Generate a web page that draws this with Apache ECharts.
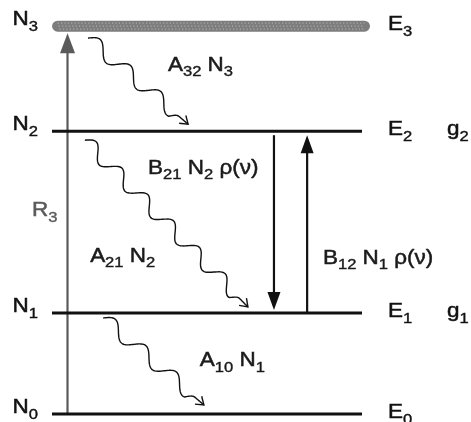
<!DOCTYPE html>
<html><head><meta charset="utf-8">
<script src="https://cdn.jsdelivr.net/npm/echarts@6/dist/echarts.min.js"></script>
<style>html,body{margin:0;padding:0;background:#fff}#main{width:471px;height:422px}</style>
</head><body><div id="main"></div>
<script>
// ---- data ----
const levelIndex = [0, 1, 2, 3];
const levelEnergy = [0, 1.0, 2.80, 3.84];          // arbitrary units
const populationLabels = ['N_0', 'N_1', 'N_2', 'N_3'];
const energyLabels = ['E_0', 'E_1', 'E_2', 'E_3'];
const degeneracyLabels = ['', 'g_1', 'g_2', ''];

const transitionNames = ['R3', 'A32', 'A21', 'A10', 'B21', 'B12'];
const transitionFrom = [0, 3, 2, 1, 2, 1];
const transitionTo = [3, 2, 1, 0, 1, 2];
const transitionKind = ['pump', 'spontaneous', 'spontaneous', 'spontaneous', 'stimulated', 'stimulated'];
const transitionLabels = ['R_3', 'A_32 N_3', 'A_21 N_2', 'A_10 N_1', 'B_21 N_2 ρ(ν)', 'B_12 N_1 ρ(ν)'];

// ---- layout (positions in axis units, offsets in px) ----
const X_MIN = 0, X_MAX = 10;
const transitionLayout = [
  {x0: 0.50, x1: 0.50, dy0: 0,  dy1: 7,  lx: -0.645, ly: 1.98},
  {x0: 1.16, x1: 4.39, dy0: 12, dy1: -7, lx: 3.74,   ly: 3.42},
  {x0: 1.06, x1: 6.32, dy0: 9,  dy1: -6, lx: 1.23,   ly: 1.53},
  {x0: 1.65, x1: 4.90, dy0: 5,  dy1: -9, lx: 4.77,   ly: 0.495},
  {x0: 7.16, x1: 7.16, dy0: 4,  dy1: -3, lx: 3.10,   ly: 2.40},
  {x0: 8.23, x1: 8.23, dy0: -1, dy1: 4,  lx: 8.74,   ly: 1.51}
];
const FONT = '"Liberation Sans", Arial, Helvetica, sans-serif';
const INK = '#111';
const GREY = '#5a5a5a';

function richText(str) {
  return str.split(/(_\d+)/).filter(Boolean)
    .map(t => t[0] === '_' ? '{s|' + t.slice(1) + '}' : '{m|' + t + '}').join('');
}
function textEl(x, capY, str, align, color) {
  return {
    type: 'text', x: x, y: capY - 12, scaleX: 1.07,
    style: {
      text: richText(str), align: align, verticalAlign: 'top', fill: color,
      fontSize: 21, fontFamily: FONT,
      rich: {
        m: {fontSize: 21, fontFamily: FONT, lineHeight: 24, padding: [0, 0, 7, 0], fill: color,
            stroke: color, lineWidth: 0.5},
        s: {fontSize: 15.5, fontFamily: FONT, lineHeight: 24, padding: [7, 0, 0, 0], fill: color,
            stroke: color, lineWidth: 0.4}
      }
    }
  };
}

function renderLevel(params, api) {
  const i = api.value(0), e = api.value(1);
  const children = [];
  const top = i === levelIndex.length - 1;
  if (top) {
    const a = api.coord([0.18, e]), b = api.coord([10.08, e]);
    children.push({type: 'line', shape: {x1: a[0], y1: a[1], x2: b[0], y2: b[1]},
      style: {stroke: '#7d7d7d', lineWidth: 11, lineCap: 'round'}});
    [-3, 0, 3].forEach((o, j) => {
      children.push({type: 'line', shape: {x1: a[0] + j, y1: a[1] + o, x2: b[0], y2: b[1] + o},
        style: {stroke: '#ababab', lineWidth: 1.2, lineDash: [1.2, 2.2]}});
    });
  } else {
    const a = api.coord([X_MIN, e]), b = api.coord([X_MAX, e]);
    children.push({type: 'line', shape: {x1: a[0], y1: a[1], x2: b[0], y2: b[1]},
      style: {stroke: INK, lineWidth: 3}});
  }
  const pN = api.coord([-0.45, e]);
  children.push(textEl(pN[0], pN[1] - 3, populationLabels[i], 'right', INK));
  const pE = api.coord([10.84, e]);
  children.push(textEl(pE[0], pE[1] + 2, energyLabels[i], 'left', INK));
  if (degeneracyLabels[i]) {
    const pg = api.coord([12.74, e]);
    children.push(textEl(pg[0], pg[1] + 2, degeneracyLabels[i], 'left', INK));
  }
  return {type: 'group', children};
}

function arrowHead(t, dir, len, w, color) {
  const px = -dir[1], py = dir[0];
  return {type: 'polygon', shape: {points: [
    [t[0], t[1]],
    [t[0] - dir[0] * len + px * w / 2, t[1] - dir[1] * len + py * w / 2],
    [t[0] - dir[0] * len - px * w / 2, t[1] - dir[1] * len - py * w / 2]
  ]}, style: {fill: color}};
}

function renderTransition(params, api) {
  const k = params.dataIndex;
  const L = transitionLayout[k];
  const s = api.coord([L.x0, levelEnergy[transitionFrom[k]]]); s[1] += L.dy0;
  const t = api.coord([L.x1, levelEnergy[transitionTo[k]]]); t[1] += L.dy1;
  const dx = t[0] - s[0], dy = t[1] - s[1];
  const len = Math.hypot(dx, dy);
  const dir = [dx / len, dy / len];
  const kind = transitionKind[k];
  const children = [];
  if (kind === 'pump' || kind === 'stimulated') {
    const color = kind === 'pump' ? GREY : INK;
    const hl = kind === 'pump' ? 20 : 18, hw = kind === 'pump' ? 15 : 13;
    children.push({type: 'line', shape: {x1: s[0], y1: s[1], x2: t[0] - dir[0] * (hl - 3), y2: t[1] - dir[1] * (hl - 3)},
      style: {stroke: color, lineWidth: 2.2}});
    children.push(arrowHead(t, dir, hl, hw, color));
  } else {
    // decorative wavy arrow (photon glyph) along the transition path
    const wl = 36, amp = 7;
    const waveLen = len - 12;
    const cycles = Math.max(1, Math.round(waveLen / wl));
    const nx = -dir[1], ny = dir[0];
    const pts = [];
    const N = 200;
    for (let j = 0; j <= N; j++) {
      const u = j / N;
      const d = u * len;
      let w = 0;
      if (d <= waveLen) {
        const env = d > waveLen - 8 ? (waveLen - d) / 8 : 1;
        w = amp * env * Math.sin(2 * Math.PI * cycles * d / waveLen + Math.PI);
      }
      pts.push([s[0] + dir[0] * d + nx * w, s[1] + dir[1] * d + ny * w]);
    }
    children.push({type: 'polyline', shape: {points: pts}, style: {stroke: INK, lineWidth: 1.4, fill: null}});
    const ang = 35 * Math.PI / 180, hl = 9;
    const back = (a) => [t[0] - hl * (dir[0] * Math.cos(a) - dir[1] * Math.sin(a)),
                          t[1] - hl * (dir[0] * Math.sin(a) + dir[1] * Math.cos(a))];
    children.push({type: 'polyline', shape: {points: [back(ang), [t[0], t[1]], back(-ang)]},
      style: {stroke: INK, lineWidth: 1.4, fill: null}});
  }
  const pl = api.coord([L.lx, L.ly]);
  children.push(textEl(pl[0], pl[1], transitionLabels[k], 'left', kind === 'pump' ? GREY : '#1a1a1a'));
  return {type: 'group', children};
}

const chart = echarts.init(document.getElementById('main'), null, {renderer: 'canvas'});
chart.setOption({
  animation: false,
  backgroundColor: '#fff',
  grid: {left: 52, right: 109, top: 10, bottom: 8},
  xAxis: {type: 'value', min: X_MIN, max: X_MAX, show: false},
  yAxis: {type: 'value', min: 0, max: 4, show: false},
  series: [
    {type: 'custom', name: 'transitions', renderItem: renderTransition,
      data: transitionNames.map((n, k) => [levelEnergy[transitionFrom[k]], levelEnergy[transitionTo[k]]]), z: 2},
    {type: 'custom', name: 'levels', renderItem: renderLevel,
      data: levelIndex.map((i) => [i, levelEnergy[i]]), z: 3}
  ]
});
</script></body></html>
